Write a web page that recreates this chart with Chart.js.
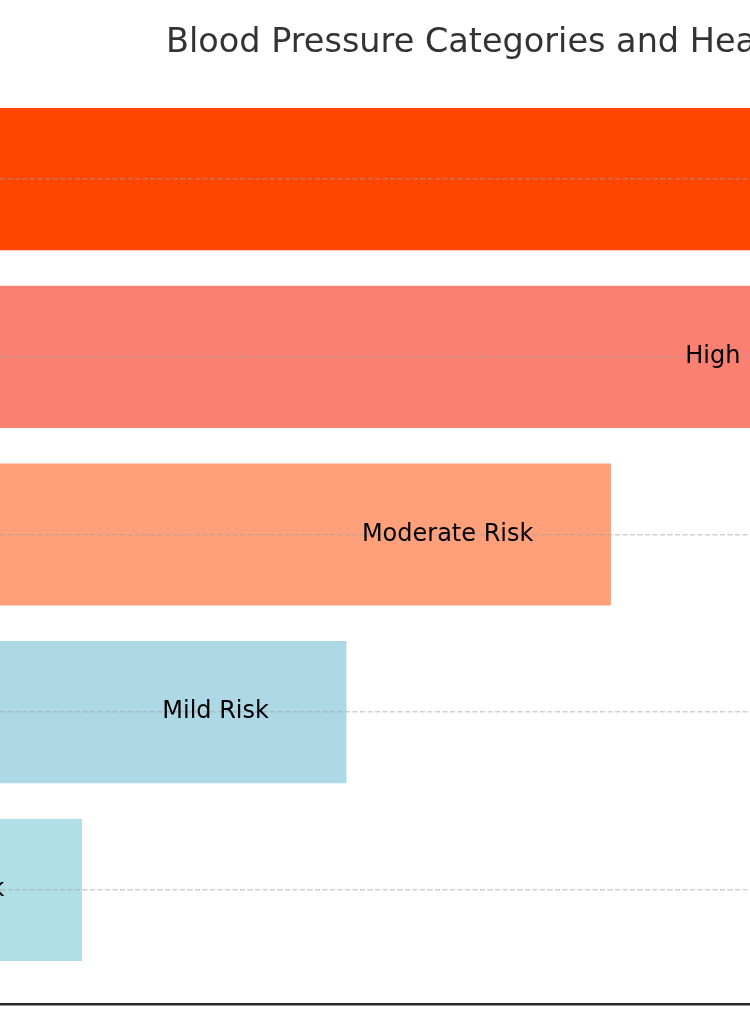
<!DOCTYPE html>
<html lang="en">

<head>
  <meta charset="UTF-8">
  <title>Blood Pressure Categories</title>
  <script src="https://cdn.jsdelivr.net/npm/chart.js@4.4.1/dist/chart.umd.min.js"></script>
  <style>
    body { margin: 0; background: #fff; }
    canvas { display: block; }
  </style>
</head>

<body>
  <canvas id="bp" width="750" height="1030"></canvas>
</body>

<script>
  // top to bottom
  const categories = ['Hypertensive Crisis', 'Hypertension Stage 2', 'Hypertension Stage 1', 'Elevated', 'Normal'];
  const riskScores = [5, 4, 3, 2, 1];
  const riskLabels = ['Very High Risk', 'High Risk', 'Moderate Risk', 'Mild Risk', 'Low Risk'];
  const barColors = ['#FF4500', '#FA8072', '#FFA07A', '#ADD8E6', '#B0E0E6'];
  const titleText = 'Blood Pressure Categories and Health Risks';

  const points = riskScores.map((v, i) => ({ x: v, y: i }));

  const titlePlugin = {
    id: 'leftTitle',
    afterDraw(chart) {
      const ctx = chart.ctx;
      ctx.save();
      ctx.font = '33.5px "DejaVu Sans"';
      ctx.fillStyle = '#333333';
      ctx.textAlign = 'left';
      ctx.textBaseline = 'alphabetic';
      ctx.fillText(titleText, 166, 52);
      ctx.restore();
    }
  };

  // risk labels, drawn after the grid so the dashes sit behind the text
  const labelPlugin = {
    id: 'riskLabels',
    afterDraw(chart) {
      const ctx = chart.ctx;
      const xs = chart.scales.x;
      const ys = chart.scales.y;
      ctx.save();
      ctx.font = '24px "DejaVu Sans"';
      ctx.fillStyle = '#000';
      ctx.textAlign = 'right';
      ctx.textBaseline = 'middle';
      riskScores.forEach((v, i) => {
        ctx.fillText(riskLabels[i], xs.getPixelForValue(v) - 77.5, ys.getPixelForValue(i));
      });
      ctx.restore();
    }
  };

  new Chart(document.getElementById('bp'), {
    type: 'bar',
    data: {
      labels: categories,
      datasets: [{
        label: 'Risk',
        data: points,
        backgroundColor: barColors,
        borderWidth: 0,
        categoryPercentage: 1.0,
        barPercentage: 0.8
      }]
    },
    options: {
      indexAxis: 'y',
      responsive: false,
      animation: false,
      devicePixelRatio: 1,
      layout: { padding: { top: 65, left: 0, right: 0, bottom: 18 } },
      plugins: {
        legend: { display: false },
        title: { display: false },
        tooltip: { enabled: false }
      },
      scales: {
        x: {
          type: 'linear',
          min: 0.69,
          max: 3.526,
          grid: { display: false },
          ticks: { display: false },
          border: { display: true, color: '#262626', width: 2.5 }
        },
        y: {
          type: 'linear',
          reverse: true,
          offset: false,
          min: -0.642,
          max: 4.642,
          afterBuildTicks(scale) {
            scale.ticks = categories.map((c, i) => ({ value: i }));
          },
          ticks: { display: false },
          grid: {
            offset: false,
            z: 1,
            color: 'rgba(160,160,160,0.5)',
            lineWidth: 1.5,
            drawTicks: false
          },
          border: { display: false, dash: [5, 2.5] }
        }
      }
    },
    plugins: [titlePlugin, labelPlugin]
  });
</script>

</html>
